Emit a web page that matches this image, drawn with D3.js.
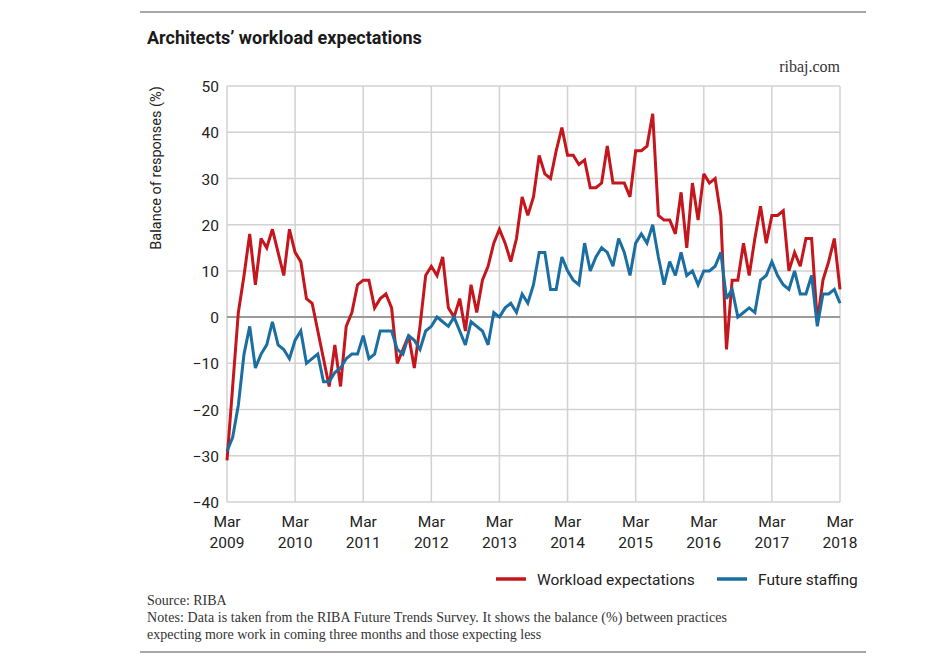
<!DOCTYPE html>
<html>
<head>
<meta charset="utf-8">
<script src="https://cdn.jsdelivr.net/npm/d3@7"></script>
<style>
  html, body { margin: 0; padding: 0; background: #fff; }
  svg { display: block; }
</style>
</head>
<body>
<svg id="chart" width="938" height="668"></svg>
<script>
// ---- Data (monthly, Mar 2009 – Mar 2018) ----
const workload = [
  -31, -15, 1, 9, 18, 7, 17, 15, 19, 14,
  9, 19, 14, 12, 4, 3, -3, -9, -15, -6, -15, -2,
  1, 7, 8, 8, 2, 4, 5, 2, -10, -7, -4, -11,
  -2, 9, 11, 9, 13, 2, 0, 4, -3, 7, 1, 8,
  11, 16, 19, 16, 12, 17, 26, 22, 26, 35, 31, 30,
  36, 41, 35, 35, 33, 34, 28, 28, 29, 37, 29, 29,
  29, 26, 36, 36, 37, 44, 22, 21, 21, 18, 27, 15,
  29, 21, 31, 29, 30, 22, -7, 8, 8, 16, 9, 17,
  24, 16, 22, 22, 23, 10, 14, 11, 17, 17, -1, 8,
  12, 17, 6
];
const staffing = [
  -29, -26, -19, -8, -2, -11, -8, -6, -1, -6,
  -7, -9, -5, -3, -10, -9, -8, -14, -14, -12, -11, -9,
  -8, -8, -4, -9, -8, -3, -3, -3, -7, -8, -4, -5,
  -7, -3, -2, 0, -1, -2, 0, -3, -6, -1, -2, -3,
  -6, 1, 0, 2, 3, 1, 5, 3, 7, 14, 14, 6,
  6, 13, 10, 8, 7, 16, 10, 13, 15, 14, 11, 17,
  14, 9, 16, 18, 16, 20, 13, 7, 12, 9, 14, 9,
  10, 7, 10, 10, 11, 14, 4, 6, 0, 1, 2, 1,
  8, 9, 12, 9, 7, 6, 10, 5, 5, 9, -2, 5,
  5, 6, 3
];
const tickMonths = ["Mar", "Mar", "Mar", "Mar", "Mar", "Mar", "Mar", "Mar", "Mar", "Mar"];
const tickYears = ["2009", "2010", "2011", "2012", "2013", "2014", "2015", "2016", "2017", "2018"];
const tickIndex = [0, 12, 24, 36, 48, 60, 72, 84, 96, 108];
const yTicks = [50, 40, 30, 20, 10, 0, -10, -20, -30, -40];
const seriesNames = ["Workload expectations", "Future staffing"];
const seriesColors = ["#c4161c", "#1b6ea1"];

// ---- Drawing ----
const svg = d3.select("#chart");
const sans = "Roboto, 'Noto Sans', sans-serif";
const serif = "'Liberation Serif', 'DejaVu Serif', serif";

const x = d3.scaleLinear().domain([0, workload.length - 1]).range([227, 840]);
const y = d3.scaleLinear().domain([-40, 50]).range([502, 86]);

// rules
svg.append("line").attr("x1", 140).attr("x2", 866).attr("y1", 12).attr("y2", 12)
  .attr("stroke", "#8a8a8a").attr("stroke-width", 1.5);
svg.append("line").attr("x1", 140).attr("x2", 866).attr("y1", 652).attr("y2", 652)
  .attr("stroke", "#8a8a8a").attr("stroke-width", 1.5);

// title
svg.append("text").attr("x", 147).attr("y", 44)
  .attr("font-family", sans).attr("font-weight", 700).attr("font-size", 18)
  .attr("fill", "#1a1a1a").text("Architects\u2019 workload expectations");

svg.append("text").attr("x", 840).attr("y", 72).attr("text-anchor", "end")
  .attr("font-family", serif).attr("font-size", 16).attr("fill", "#333")
  .text("ribaj.com");

// grid
const grid = svg.append("g");
grid.selectAll("line.h").data(yTicks.filter(d => d !== 0)).join("line")
  .attr("x1", x.range()[0]).attr("x2", x.range()[1])
  .attr("y1", d => y(d)).attr("y2", d => y(d))
  .attr("stroke", "#d2d2d2").attr("stroke-width", 1.5);
grid.selectAll("line.v").data(tickIndex).join("line")
  .attr("x1", d => x(d)).attr("x2", d => x(d))
  .attr("y1", y(50)).attr("y2", y(-40))
  .attr("stroke", "#d2d2d2").attr("stroke-width", 1.5);
grid.append("line").attr("x1", x.range()[0]).attr("x2", x.range()[1])
  .attr("y1", y(0)).attr("y2", y(0))
  .attr("stroke", "#9a9a9a").attr("stroke-width", 2);

// y axis
const yAxis = d3.axisLeft(y).tickValues(yTicks).tickSize(0).tickPadding(0)
  .tickFormat(d3.format("d"));
const gy = svg.append("g").attr("transform", "translate(219,0)").call(yAxis);
gy.select(".domain").remove();
gy.selectAll("text").attr("font-family", sans).attr("font-size", 15.5)
  .attr("fill", "#222").attr("dy", "0.36em");

svg.append("text")
  .attr("transform", "translate(161,168) rotate(-90)")
  .attr("text-anchor", "middle")
  .attr("font-family", sans).attr("font-size", 14.5).attr("fill", "#222")
  .text("Balance of responses (%)");

// x axis labels
const xl = svg.append("g");
xl.selectAll("text.m").data(tickIndex).join("text")
  .attr("x", d => x(d)).attr("y", 527).attr("text-anchor", "middle")
  .attr("font-family", sans).attr("font-size", 15.5).attr("fill", "#222")
  .text((d, i) => tickMonths[i]);
xl.selectAll("text.yr").data(tickIndex).join("text")
  .attr("x", d => x(d)).attr("y", 548).attr("text-anchor", "middle")
  .attr("font-family", sans).attr("font-size", 15.5).attr("fill", "#222")
  .text((d, i) => tickYears[i]);

// lines
const line = d3.line().x((d, i) => x(i)).y(d => y(d)).curve(d3.curveLinear);
[workload, staffing].forEach((s, k) => {
  svg.append("path").datum(s).attr("d", line)
    .attr("fill", "none").attr("stroke", seriesColors[k])
    .attr("stroke-width", 3).attr("stroke-linejoin", "miter").attr("stroke-miterlimit", 3);
});

// legend
const legendX = [496, 717];
const lg = svg.append("g");
seriesNames.forEach((n, k) => {
  lg.append("line").attr("x1", legendX[k]).attr("x2", legendX[k] + 30)
    .attr("y1", 579).attr("y2", 579).attr("stroke", seriesColors[k]).attr("stroke-width", 3.5);
  lg.append("text").attr("x", legendX[k] + 41).attr("y", 585)
    .attr("font-family", sans).attr("font-size", 15.5).attr("fill", "#222").text(n);
});

// source & notes
const notes = [
  "Source: RIBA",
  "Notes: Data is taken from the RIBA Future Trends Survey. It shows the balance (%) between practices",
  "expecting more work in coming three months and those expecting less"
];
svg.selectAll("text.note").data(notes).join("text")
  .attr("x", 147).attr("y", (d, i) => 605 + i * 17)
  .attr("font-family", serif).attr("font-size", 14).attr("fill", "#333")
  .attr("textLength", (d, i) => i === 1 ? 580 : null)
  .text(d => d);
</script>
</body>
</html>
